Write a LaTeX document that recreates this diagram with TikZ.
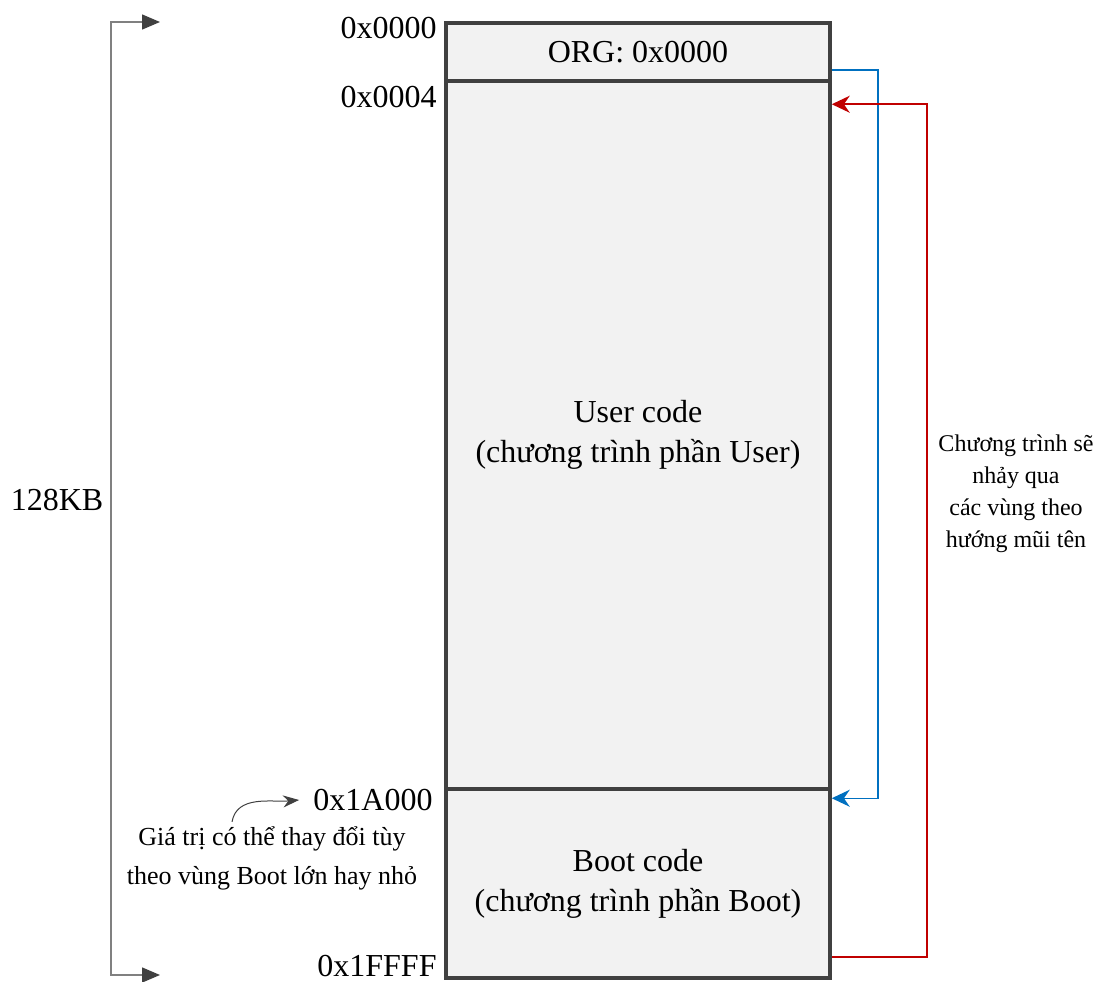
\documentclass[tikz,border=0pt]{standalone}
\usepackage{fontspec}
\setmainfont{Liberation Serif}
\usetikzlibrary{positioning, arrows.meta}

\definecolor{jumpblue}{HTML}{0070C0}
\definecolor{jumpred}{HTML}{C00000}

\begin{document}
\begin{tikzpicture}[x=1pt, y=-1pt, thick,
  mem/.style = {draw=black!75, line width=3.5pt, fill=black!5, minimum width=384pt, inner sep=0pt, align=center, font=\fontsize{32}{40}\selectfont},
  addr/.style = {anchor=east, inner sep=0pt, font=\fontsize{32}{38}\selectfont},
  note/.style = {align=center, inner sep=0pt},
  bracket/.style = {draw=black!50, line width=1.5pt, {Triangle[length=18pt,width=15pt,color=black!75]}-{Triangle[length=18pt,width=15pt,color=black!75]}},
  jump/.style = {line width=1.5pt, -{Stealth[length=18pt,width=17pt]}}]
\useasboundingbox (0,0) rectangle (1112,982);

% memory map
\node[mem, minimum height=58pt] (org) at (638,52) {ORG: 0x0000};
\node[mem, minimum height=708pt] (user) at (638,435) {User code\\(chương trình phần User)};
\node[mem, minimum height=189pt] (boot) at (638,883.5) {Boot code\\(chương trình phần Boot)};

% addresses
\node[addr] (a0) at (437,28) {0x0000};
\node[addr] (a4) at (437,97) {0x0004};
\node[addr] (a1a) at (433,800) {0x1A000};
\node[addr] (aff) at (437,966) {0x1FFFF};

% size bracket
\coordinate (kt) at (160,22);
\coordinate (kb) at (160,975);
\draw[bracket] (kt) -- ++(-49,0) |- (kb);
\node[addr, anchor=center] (size) at (57,500) {128KB};

% note on boot start
\node[note, font=\fontsize{26}{39}\selectfont] (gnote) at (272,858) {Giá trị có thể thay đổi tùy\\theo vùng Boot lớn hay nhỏ};
\draw[black!75, line width=1pt, -{Stealth[length=16pt,width=12pt]}] ([xshift=-40pt,yshift=4pt]gnote.north) to[out=80, in=185] ([xshift=-14pt]a1a.west);

% jumps
\draw[jump, jumpblue] ([yshift=-18pt]org.east) -- ++(46,0) |- ([yshift=-11pt]boot.north east);
\draw[jump, jumpred] ([yshift=23pt]boot.south east) -- ++(95,0) |- ([yshift=-25pt]user.north east);
\node[note, font=\fontsize{24}{32}\selectfont] (jnote) at (1016,494) {Chương trình sẽ\\nhảy qua\\các vùng theo\\hướng mũi tên};
\end{tikzpicture}
\end{document}
